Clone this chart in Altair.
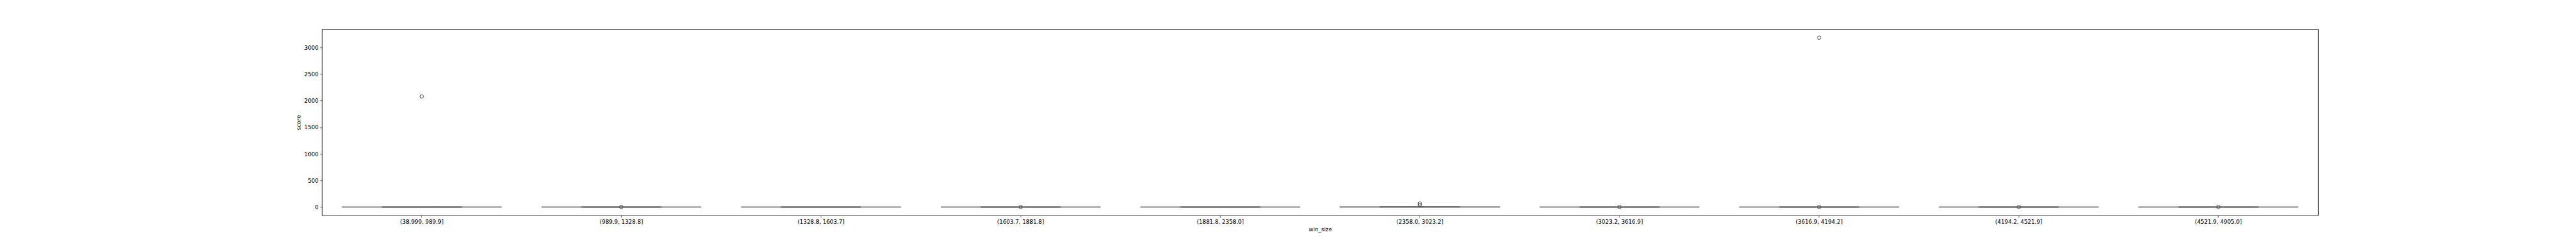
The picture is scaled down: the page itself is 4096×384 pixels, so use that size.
import altair as alt
import pandas as pd

categories = ["(38.999, 989.9]", "(989.9, 1328.8]", "(1328.8, 1603.7]", "(1603.7, 1881.8]",
              "(1881.8, 2358.0]", "(2358.0, 3023.2]", "(3023.2, 3616.9]", "(3616.9, 4194.2]",
              "(4194.2, 4521.9]", "(4521.9, 4905.0]"]
whisker_low = [0, 0, 0, 0, 0, 0, 0, 0, 0, 0]
q1 = [0, 0, 0, 0, 0, 0, 0, 0, 0, 0]
median = [0, 0, 0, 0, 0, 0, 0, 0, 0, 0]
q3 = [0, 0, 0, 0, 0, 3, 0, 0, 0, 0]
whisker_high = [0, 0, 0, 0, 0, 3, 0, 0, 0, 0]

outlier_cat = ["(38.999, 989.9]", "(989.9, 1328.8]", "(1603.7, 1881.8]",
               "(2358.0, 3023.2]", "(2358.0, 3023.2]", "(3023.2, 3616.9]",
               "(3616.9, 4194.2]", "(3616.9, 4194.2]", "(4194.2, 4521.9]", "(4521.9, 4905.0]"]
outlier_val = [2076, 2, 2, 68, 38, 2, 3182, 2, 2, 2]

stats = pd.DataFrame({"win_size": categories, "lo": whisker_low, "q1": q1,
                      "med": median, "q3": q3, "hi": whisker_high})
outl = pd.DataFrame({"win_size": outlier_cat, "score": outlier_val})

S = 0.64
W = 3174.4
H = 295.5
band = W / len(categories)
FONT = "DejaVu Sans"
FS = 13.9 * S

x_enc = alt.X("win_size:N", sort=categories, title="win_size",
              scale=alt.Scale(paddingInner=0, paddingOuter=0),
              axis=alt.Axis(labelAngle=0, domain=False, tickColor="black", tickSize=3.1,
                            tickWidth=0.7, labelPadding=3, titlePadding=3,
                            labelFont=FONT, labelFontSize=FS, labelColor="black",
                            titleFont=FONT, titleFontSize=FS, titleFontWeight="normal",
                            titleColor="black"))
y_scale = alt.Scale(domain=[-157, 3341], nice=False, zero=False)
y_axis = alt.Axis(values=[0, 500, 1000, 1500, 2000, 2500, 3000], format="d", grid=False,
                  domain=False, tickColor="black", tickSize=3.1, tickWidth=0.7,
                  labelPadding=3, titlePadding=4, labelFont=FONT, labelFontSize=FS,
                  labelColor="black", titleFont=FONT, titleFontSize=FS,
                  titleFontWeight="normal", titleColor="black")

base = alt.Chart(stats)

whisk1 = base.mark_rule(color="#5f5f5f", strokeWidth=1.3).encode(
    x=x_enc, y=alt.Y("lo:Q", scale=y_scale, axis=y_axis, title="score"), y2="q1:Q")
whisk2 = base.mark_rule(color="#5f5f5f", strokeWidth=1.3).encode(
    x=x_enc, y=alt.Y("q3:Q", scale=y_scale), y2="hi:Q")
box = base.mark_bar(size=0.8 * band, fillOpacity=0, stroke="#7a7a7a", strokeWidth=1.3).encode(
    x=x_enc, y=alt.Y("q1:Q", scale=y_scale), y2="q3:Q")
med = base.mark_tick(size=0.8 * band, thickness=1.3, color="#7a7a7a", opacity=1).encode(
    x=x_enc, y=alt.Y("med:Q", scale=y_scale))
cap_lo = base.mark_tick(size=0.4 * band, thickness=1.3, color="#5a5a5a", opacity=1).encode(
    x=x_enc, y=alt.Y("lo:Q", scale=y_scale))
cap_hi = base.mark_tick(size=0.4 * band, thickness=1.3, color="#5a5a5a", opacity=1).encode(
    x=x_enc, y=alt.Y("hi:Q", scale=y_scale))
pts = alt.Chart(outl).mark_point(shape="circle", filled=False, size=30, stroke="#3f3f3f",
                                 strokeWidth=1, opacity=1).encode(
    x=x_enc, y=alt.Y("score:Q", scale=y_scale))

chart = alt.layer(whisk1, whisk2, box, med, cap_lo, cap_hi, pts).properties(
    width=W, height=H,
    autosize=alt.AutoSizeParams(type="none"),
    padding={"left": 504, "top": 38.3, "right": 402, "bottom": 34},
    background="white",
).configure_view(stroke="black", strokeWidth=0.8)

chart.save("out.html", embed_options={"renderer": "svg", "actions": False})
